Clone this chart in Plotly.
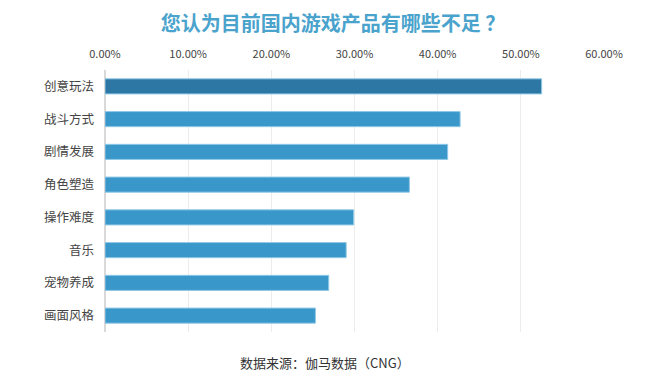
import plotly.graph_objects as go

categories = ["创意玩法", "战斗方式", "剧情发展", "角色塑造", "操作难度", "音乐", "宠物养成", "画面风格"]
values = [0.525, 0.427, 0.412, 0.366, 0.299, 0.290, 0.269, 0.253]
tick_vals = [0, 0.1, 0.2, 0.3, 0.4, 0.5, 0.6]
tick_text = ["0.00%", "10.00%", "20.00%", "30.00%", "40.00%", "50.00%", "60.00%"]

colors = ["#2c77a3"] + ["#3a97ca"] * (len(categories) - 1)

fig = go.Figure(go.Bar(
    x=values, y=categories, orientation="h",
    marker=dict(color=colors, line=dict(color="#8fc8e6", width=1)),
    width=0.46, hoverinfo="x+y",
))

font_cjk = "Noto Sans CJK SC, sans-serif"
W, H = 642, 374
ml, mr, mt, mb = 96.5, 46, 62, 50
plot_w = W - ml - mr
plot_h = H - mt - mb
fig.update_layout(
    width=W, height=H,
    margin=dict(l=ml, r=mr, t=mt, b=mb),
    paper_bgcolor="white", plot_bgcolor="white",
    showlegend=False,
    font=dict(family=font_cjk, color="#444"),
    title=dict(text="<b>您认为目前国内游戏产品有哪些不足 ？</b>", x=325 / W, xanchor="center",
               y=1 - 15.5 / H, yanchor="middle", font=dict(size=20, color="#4aa3cc", family=font_cjk)),
    xaxis=dict(side="top", range=[0, 0.6], tickvals=tick_vals, ticktext=tick_text,
               showgrid=True, gridcolor="#ececec", gridwidth=1, zeroline=True, zerolinecolor="#d9d9d9",
               tickfont=dict(size=11, color="#444", family=font_cjk), ticks="",
               ticklabelstandoff=9, fixedrange=True),
    yaxis=dict(autorange="reversed", tickfont=dict(size=12.5, color="#444", family=font_cjk),
               ticks="", ticklabelstandoff=10, showgrid=False, fixedrange=True),
    annotations=[dict(text="数据来源：伽马数据（CNG）", x=(317 - ml) / plot_w, xref="paper", xanchor="center",
                      y=-30 / plot_h, yref="paper", yanchor="middle", showarrow=False,
                      font=dict(size=13, color="#333", family=font_cjk))],
)
fig.write_html("out.html")
